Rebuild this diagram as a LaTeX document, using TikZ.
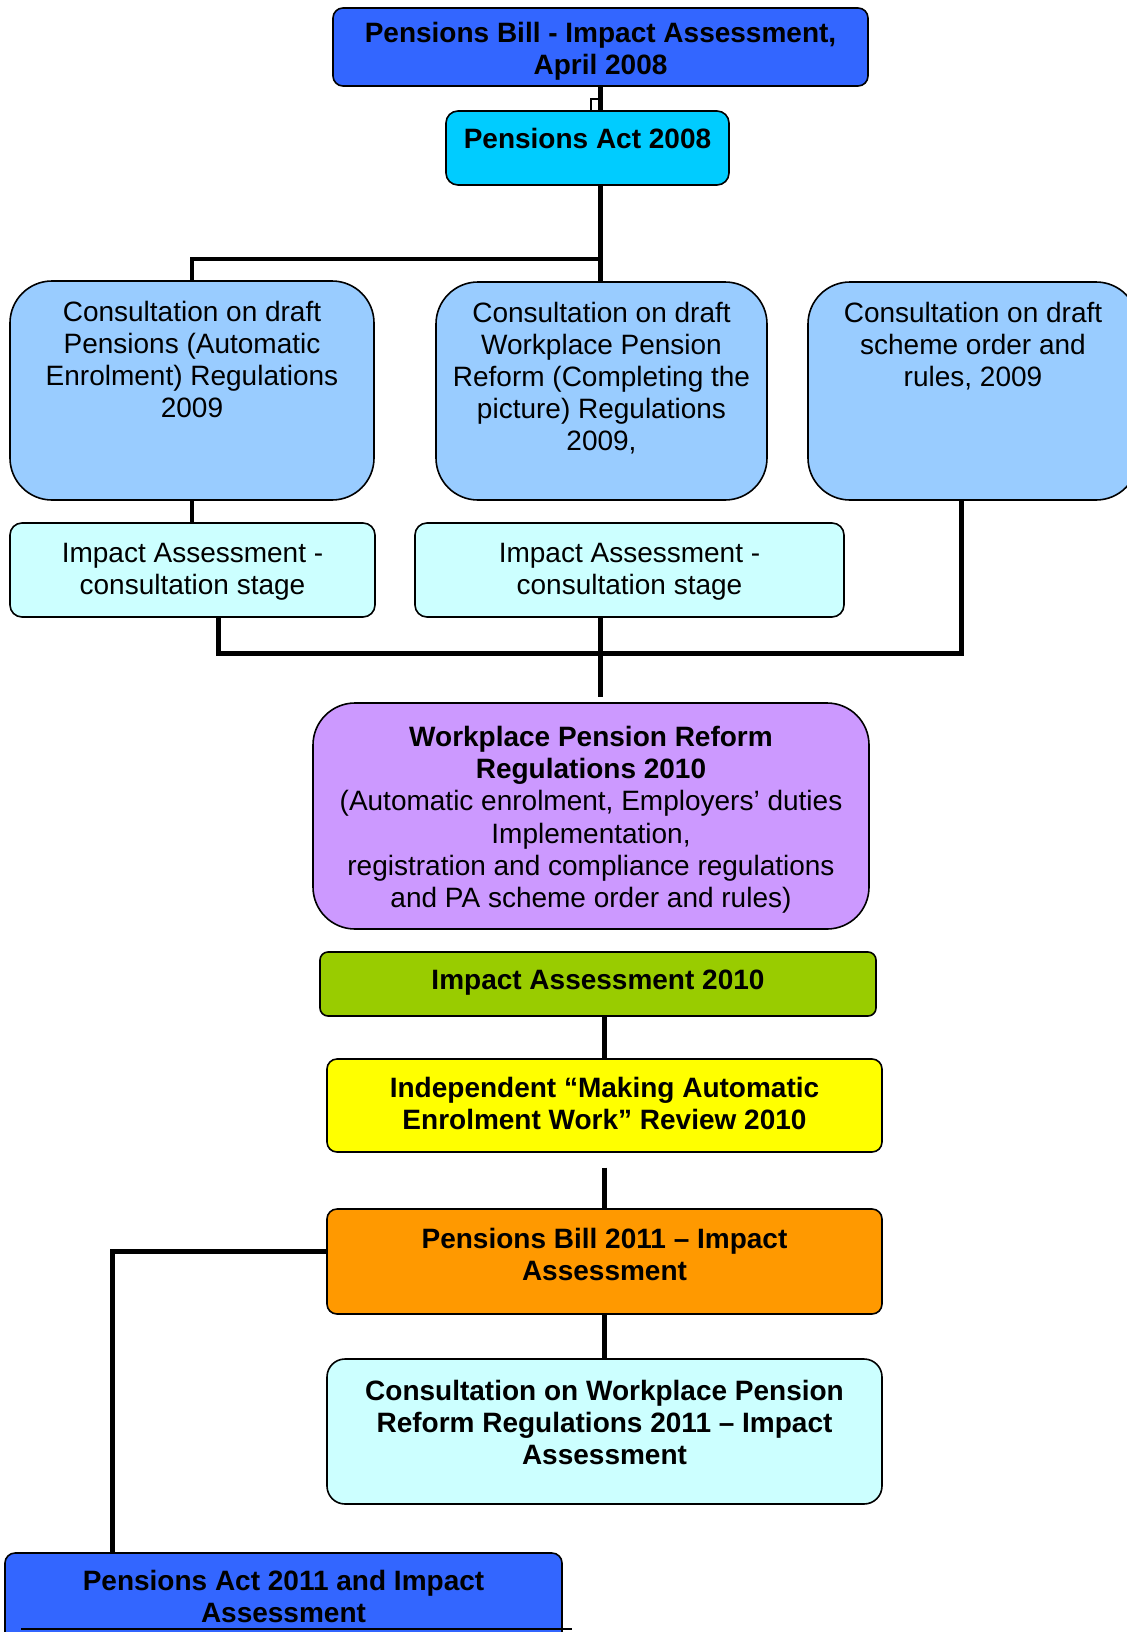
\documentclass[tikz,border=0pt]{standalone}
\usepackage{fontspec}
\setmainfont{Liberation Sans}
\definecolor{cBlue}{HTML}{3366FF}
\definecolor{cCyan}{HTML}{00CCFF}
\definecolor{cLblue}{HTML}{99CCFF}
\definecolor{cPale}{HTML}{CCFFFF}
\definecolor{cPurple}{HTML}{CC99FF}
\definecolor{cGreen}{HTML}{99CC00}
\definecolor{cYellow}{HTML}{FFFF00}
\definecolor{cOrange}{HTML}{FF9900}
\newcommand\fnreg{\fontsize{14}{16.1}\selectfont}
\newcommand\fnbold{\fontsize{14}{16.1}\selectfont\bfseries}
% name, style, x1, y1, x2, y2, top pad (pt), text
\newcommand\bx[8]{%
  \pgfmathsetmacro\bxw{(#5-#3)/2}%
  \pgfmathsetmacro\bxh{(#6-#4)/2}%
  \node[#2, anchor=north west] (#1) at (#3,#4)
    {\begin{minipage}[c][\bxh pt][t]{\bxw pt}\centering\vspace*{#7pt}\strut #8\end{minipage}};}
\tikzset{
  bxbase/.style={draw, line width=0.8pt, inner sep=0pt, outer sep=0pt},
  bluebox/.style={bxbase, fill=cBlue, rounded corners=5pt, font=\fnbold},
  actbox/.style={bxbase, fill=cCyan, rounded corners=6pt, font=\fnbold},
  consbox/.style={bxbase, fill=cLblue, rounded corners=21pt, font=\fnreg},
  iabox/.style={bxbase, fill=cPale, rounded corners=6pt, font=\fnreg},
  purplebox/.style={bxbase, fill=cPurple, rounded corners=21pt, font=\fnreg},
  greenbox/.style={bxbase, fill=cGreen, rounded corners=4pt, font=\fnbold},
  yellowbox/.style={bxbase, fill=cYellow, rounded corners=5pt, font=\fnbold},
  orangebox/.style={bxbase, fill=cOrange, rounded corners=5pt, font=\fnbold},
  palebold/.style={bxbase, fill=cPale, rounded corners=9pt, font=\fnbold},
  conn/.style={line width=2.2pt},
  thinconn/.style={line width=1.2pt}
}
\begin{document}
\begin{tikzpicture}[x=0.5pt, y=-0.5pt]
\useasboundingbox (0,0) rectangle (1126,1632);

\bx{b1}{bluebox}{333}{8}{868}{86}{5.75}{Pensions Bill - Impact Assessment,\\April 2008}
\bx{b2}{actbox}{446}{111}{729}{185}{7.25}{Pensions Act 2008}
\bx{c1}{consbox}{10}{281}{374}{500}{8.75}{Consultation on draft\\Pensions (Automatic\\Enrolment) Regulations\\2009}
\bx{c2}{consbox}{436}{282}{767}{500}{8.75}{Consultation on draft\\Workplace Pension\\Reform (Completing the\\picture) Regulations\\2009,}
\bx{c3}{consbox}{808}{282}{1138}{500}{8.75}{Consultation on draft\\scheme order and\\rules, 2009}
\bx{ia1}{iabox}{10}{523}{375}{617}{8.25}{Impact Assessment -\\consultation stage}
\bx{ia2}{iabox}{415}{523}{844}{617}{8.25}{Impact Assessment -\\consultation stage}
\bx{pu}{purplebox}{313}{703}{869}{929}{10.5}{\textbf{Workplace Pension Reform}\\\textbf{Regulations 2010}\\(Automatic enrolment, Employers’ duties\\Implementation,\\registration and compliance regulations\\and PA scheme order and rules)}
\bx{gr}{greenbox}{320}{952}{876}{1016}{7.25}{Impact Assessment 2010}
\bx{ye}{yellowbox}{327}{1059}{882}{1152}{7.75}{Independent “Making Automatic\\Enrolment Work” Review 2010}
\bx{or}{orangebox}{327}{1209}{882}{1314}{8.25}{Pensions Bill 2011 – Impact\\Assessment}
\bx{lc}{palebold}{327}{1359}{882}{1504}{9.25}{Consultation on Workplace Pension\\Reform Regulations 2011 – Impact\\Assessment}
\bx{bt}{bluebox}{5}{1553}{562}{1652}{7.25}{Pensions Act 2011 and Impact\\Assessment}

% helper coordinates
\coordinate (x600) at (600.5,0);
\coordinate (jog) at (591,99);
\coordinate (j1) at (600.5,259);
\coordinate (x218) at (218.5,0);
\coordinate (x961) at (961.6,0);
\coordinate (j2) at (600.5,653.5);
\coordinate (k1) at (604.5,1167.6);
\coordinate (x112) at (112.4,1251.5);
\coordinate (r1) at (21,1629);
\coordinate (r2) at (572,1629);

% connectors
\draw[conn] (b1.south -| x600) -- (b2.north -| x600);
\draw[thinconn] (jog -| x600) -- (jog) -- (b2.north -| jog);
\draw[conn] (b2.south -| x600) -- (c2.north -| x600);
\draw[conn] (c1.north) |- (j1);
\draw[conn] (c1.south) -- (ia1.north -| c1.south);
\draw[conn] (ia1.south -| x218) -- (x218 |- j2) -- (x961 |- j2) -- (c3.south -| x961);
\draw[conn] (ia2.south -| x600) -- ([yshift=3pt]pu.north -| x600);
\draw[conn] (gr.south -| k1) -- (ye.north -| k1);
\draw[conn] (k1) -- (or.north -| k1);
\draw[conn] (or.south -| k1) -- (lc.north -| k1);
\draw[conn] (or.west |- x112) -- (x112) -- (bt.north -| x112);
\draw[line width=0.6pt] (r1) -- (r2);
\end{tikzpicture}
\end{document}
